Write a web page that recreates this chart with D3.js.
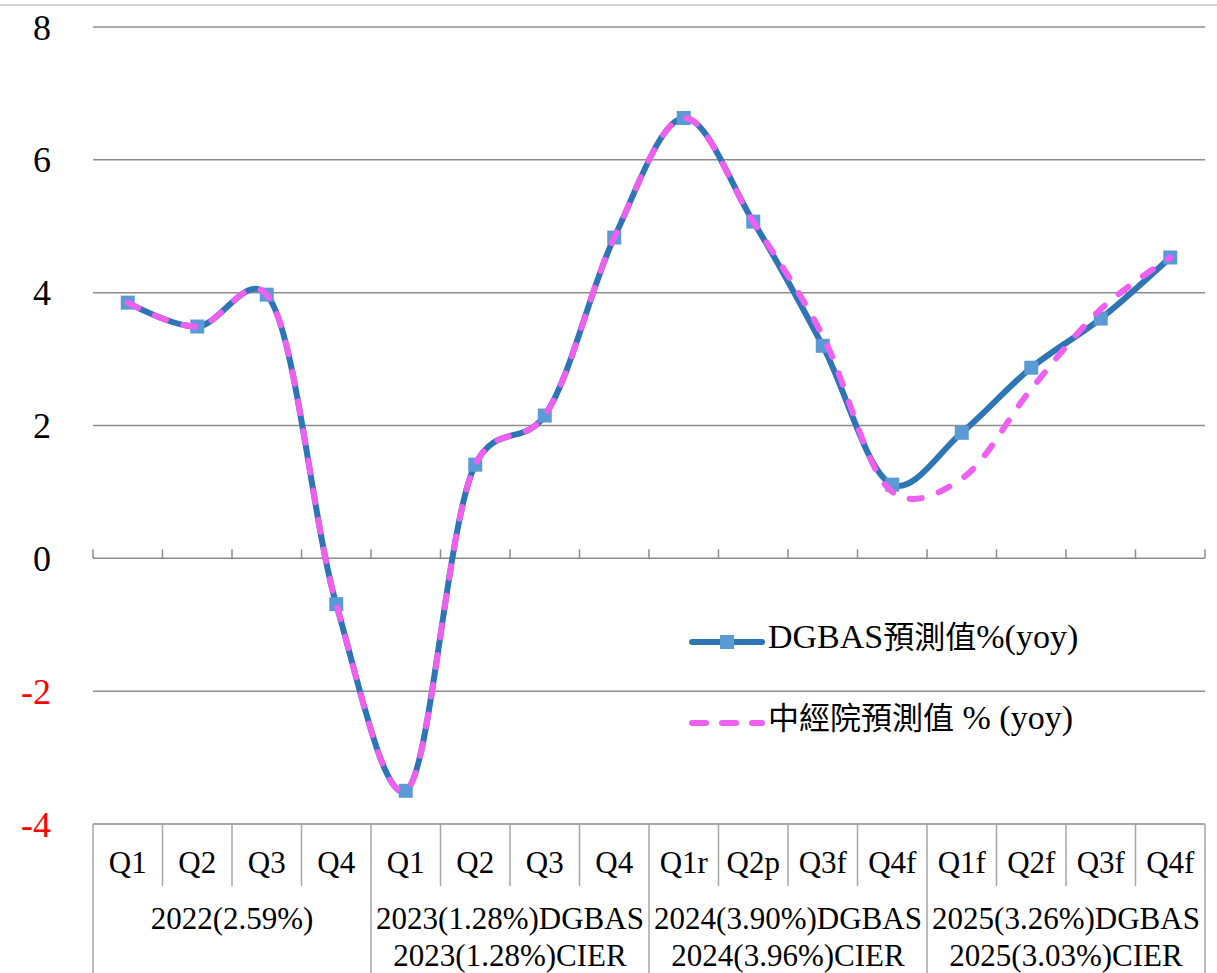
<!DOCTYPE html>
<html>
<head>
<meta charset="utf-8">
<script src="https://cdn.jsdelivr.net/npm/d3@7"></script>
<style>
  html, body { margin: 0; padding: 0; background: #fff; }
  svg { display: block; font-family: "Liberation Serif", "Times New Roman", serif; }
</style>
</head>
<body>
<svg id="chart" width="1217" height="973"></svg>
<script>
const quarters = ["Q1", "Q2", "Q3", "Q4", "Q1", "Q2", "Q3", "Q4", "Q1r", "Q2p", "Q3f", "Q4f", "Q1f", "Q2f", "Q3f", "Q4f"];
const yearLabels = [
  ["2022(2.59%)"],
  ["2023(1.28%)DGBAS", "2023(1.28%)CIER"],
  ["2024(3.90%)DGBAS", "2024(3.96%)CIER"],
  ["2025(3.26%)DGBAS", "2025(3.03%)CIER"]
];
const dgbas = [3.85, 3.49, 3.97, -0.69, -3.50, 1.41, 2.15, 4.83, 6.63, 5.07, 3.20, 1.11, 1.89, 2.87, 3.61, 4.53];
const cier  = [3.85, 3.49, 3.97, -0.69, -3.50, 1.41, 2.15, 4.83, 6.63, 5.07, 3.35, 1.00, 1.20, 2.55, 3.75, 4.53];
const yTicks = [8, 6, 4, 2, 0, -2, -4];
// legend labels split into latin / CJK runs
const seriesNames = [
  [["DGBAS", "latin"], ["預測值", "cjk"], ["%(yoy)", "latin"]],
  [["中經院預測值", "cjk"], [" % (yoy)", "latin"]]
];

const width = 1217, height = 973;
const margin = {top: 27, right: 12, left: 93};
const plotBottom = 824;
const gridColor = "#8c8c8c";
const blue = "#2e75b6", marker = "#5b9bd5", pink = "#f060f0";

const svg = d3.select("#chart");

const x = d3.scaleBand()
  .domain(d3.range(quarters.length))
  .range([margin.left, width - margin.right]);

const y = d3.scaleLinear()
  .domain([-4, 8])
  .range([plotBottom, margin.top]);

// top border of chart area
svg.append("line")
  .attr("x1", 0).attr("x2", width)
  .attr("y1", 5).attr("y2", 5)
  .attr("stroke", "#c8c8c8").attr("stroke-width", 1.5);

// gridlines
svg.append("g")
  .selectAll("line")
  .data(yTicks)
  .join("line")
  .attr("x1", margin.left).attr("x2", width - margin.right)
  .attr("y1", d => y(d)).attr("y2", d => y(d))
  .attr("stroke", gridColor).attr("stroke-width", 1.5);

// y labels
svg.append("g")
  .attr("font-size", 36)
  .attr("text-anchor", "end")
  .selectAll("text")
  .data(yTicks)
  .join("text")
  .attr("x", 51)
  .attr("y", d => y(d))
  .attr("dy", "0.35em")
  .attr("fill", d => d < 0 ? "#ff0000" : "#000")
  .text(d => d);

// small tick marks on the zero line
svg.append("g")
  .selectAll("line")
  .data(d3.range(quarters.length + 1))
  .join("line")
  .attr("x1", i => margin.left + i * x.bandwidth())
  .attr("x2", i => margin.left + i * x.bandwidth())
  .attr("y1", y(0)).attr("y2", y(0) - 9)
  .attr("stroke", gridColor).attr("stroke-width", 1.5);

// table under the plot
const table = svg.append("g");
table.selectAll("line.q")
  .data(d3.range(quarters.length + 1))
  .join("line")
  .attr("class", "q")
  .attr("x1", i => margin.left + i * x.bandwidth())
  .attr("x2", i => margin.left + i * x.bandwidth())
  .attr("y1", plotBottom)
  .attr("y2", i => i % 4 === 0 ? height : 886)
  .attr("stroke", "#a6a6a6").attr("stroke-width", 1.5);

table.append("g")
  .attr("font-size", 31)
  .attr("text-anchor", "middle")
  .selectAll("text")
  .data(quarters)
  .join("text")
  .attr("x", (d, i) => x(i) + x.bandwidth() / 2)
  .attr("y", 873)
  .text(d => d);

const groupW = x.bandwidth() * 4;
table.append("g")
  .attr("font-size", 31)
  .attr("text-anchor", "middle")
  .selectAll("text")
  .data(yearLabels.flatMap((lines, g) => lines.map((t, k) => ({t, g, k}))))
  .join("text")
  .attr("x", d => margin.left + d.g * groupW + groupW / 2)
  .attr("y", d => 929 + d.k * 37)
  .text(d => d.t);

// lines
const line = d3.line()
  .x((d, i) => x(i) + x.bandwidth() / 2)
  .y(d => y(d))
  .curve(d3.curveCatmullRom.alpha(0.25));

svg.append("path")
  .datum(dgbas)
  .attr("d", line)
  .attr("fill", "none")
  .attr("stroke", blue)
  .attr("stroke-width", 6)
  .attr("stroke-linecap", "round");

const ms = 14;
svg.append("g")
  .selectAll("rect")
  .data(dgbas)
  .join("rect")
  .attr("x", (d, i) => x(i) + x.bandwidth() / 2 - ms / 2)
  .attr("y", d => y(d) - ms / 2)
  .attr("width", ms).attr("height", ms)
  .attr("fill", marker);

svg.append("path")
  .datum(cier)
  .attr("d", line)
  .attr("fill", "none")
  .attr("stroke", pink)
  .attr("stroke-width", 6)
  .attr("stroke-dasharray", "12,18")
  .attr("stroke-linecap", "round");

// legend
const legend = svg.append("g");
const lx1 = 692, lx2 = 762;
legend.append("line")
  .attr("x1", lx1).attr("x2", lx2).attr("y1", 642).attr("y2", 642)
  .attr("stroke", blue).attr("stroke-width", 6).attr("stroke-linecap", "round");
legend.append("rect")
  .attr("x", (lx1 + lx2) / 2 - 7).attr("y", 642 - 7)
  .attr("width", 14).attr("height", 14)
  .attr("fill", marker);
legend.append("line")
  .attr("x1", lx1).attr("x2", lx2).attr("y1", 723).attr("y2", 723)
  .attr("stroke", pink).attr("stroke-width", 6)
  .attr("stroke-dasharray", "14,16").attr("stroke-linecap", "round");

legend.selectAll("text")
  .data(seriesNames)
  .join("text")
  .attr("x", 768)
  .attr("y", (d, i) => 642 + i * 81)
  .attr("dy", "0.35em")
  .selectAll("tspan")
  .data(d => d)
  .join("tspan")
  .style("font-family", d => d[1] === "cjk" ? "'Noto Sans CJK TC', sans-serif" : "'Liberation Serif', serif")
  .style("font-size", d => d[1] === "cjk" ? "31px" : "34px")
  .text(d => d[0]);
</script>
</body>
</html>
